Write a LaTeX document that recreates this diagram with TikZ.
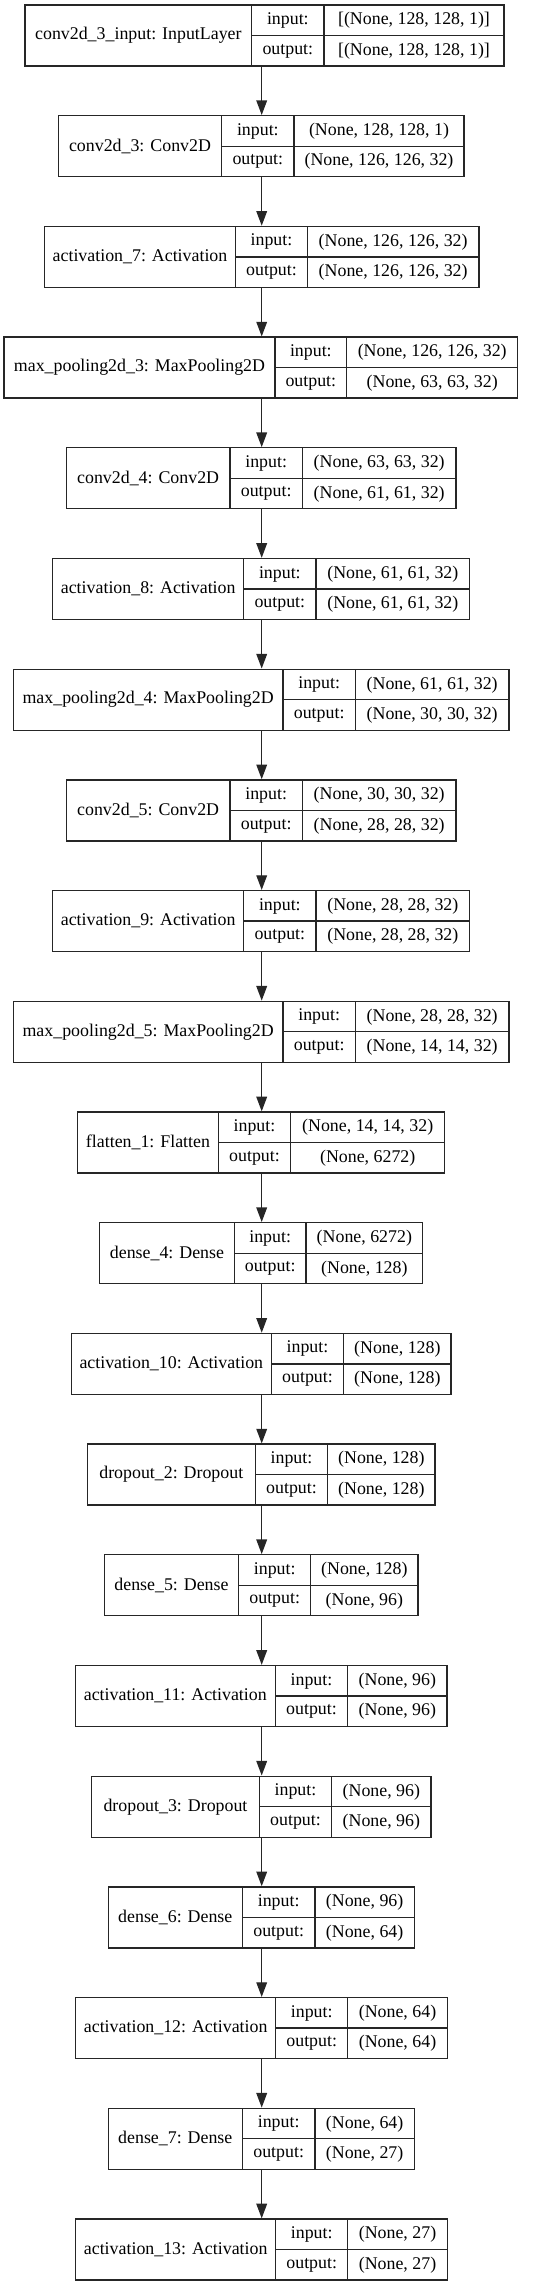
\documentclass[tikz,border=0pt]{standalone}
\usepackage{fontspec}
\setmainfont{Liberation Serif}
\usetikzlibrary{arrows.meta,fit}
\tikzset{
  cellline/.style={draw=black!85,line width=1pt},
  boxnode/.style={cellline,inner sep=0pt,fit=#1},
  celltext/.style={inner sep=0pt,text=black},
  flowarrow/.style={draw=black!85,line width=1pt,-{Triangle[length=11pt,width=8pt]}}
}
\newcommand{\klayer}[9]{%
  \coordinate (#1-nw) at (#2,#6);
  \coordinate (#1-se) at (#5,{#6+61});
  \node[boxnode={(#1-nw)(#1-se)}] (#1) {};
  \draw[cellline] (#3,#6) -- (#3,{#6+61});
  \draw[cellline] (#4,#6) -- (#4,{#6+61});
  \draw[cellline] (#3,{#6+30.5}) -- (#5,{#6+30.5});
  \node[celltext] (#1-name) at ({(#2+#3)/2},{#6+30.5}) {#7};
  \node[celltext] (#1-inl) at ({(#3+#4)/2},{#6+15.5}) {input:};
  \node[celltext] (#1-outl) at ({(#3+#4)/2},{#6+46}) {output:};
  \node[celltext] (#1-inv) at ({(#4+#5)/2},{#6+15.5}) {#8};
  \node[celltext] (#1-outv) at ({(#4+#5)/2},{#6+46}) {#9};
}
\begin{document}
\begin{tikzpicture}[x=0.75pt,y=-0.75pt,font=\fontsize{13.4}{16}\selectfont]
\useasboundingbox (0,0) rectangle (540,2287);
\coordinate (ax) at (261.7,0);
\klayer{L0}{25}{251.7}{324}{504}{5}{conv2d\_3\_input: InputLayer}{[(None, 128, 128, 1)]}{[(None, 128, 128, 1)]}
\klayer{L1}{58.3}{221.7}{294}{464}{115.7}{conv2d\_3: Conv2D}{(None, 128, 128, 1)}{(None, 126, 126, 32)}
\klayer{L2}{44.3}{235.7}{307.3}{479}{226.4}{activation\_7: Activation}{(None, 126, 126, 32)}{(None, 126, 126, 32)}
\klayer{L3}{4}{275}{346.7}{517.7}{337.1}{max\_pooling2d\_3: MaxPooling2D}{(None, 126, 126, 32)}{(None, 63, 63, 32)}
\klayer{L4}{66.3}{230}{302.3}{456}{447.8}{conv2d\_4: Conv2D}{(None, 63, 63, 32)}{(None, 61, 61, 32)}
\klayer{L5}{52.7}{243.7}{316}{469.7}{558.5}{activation\_8: Activation}{(None, 61, 61, 32)}{(None, 61, 61, 32)}
\klayer{L6}{13.3}{283}{355.3}{509}{669.2}{max\_pooling2d\_4: MaxPooling2D}{(None, 61, 61, 32)}{(None, 30, 30, 32)}
\klayer{L7}{66.3}{230}{302.3}{456}{779.9}{conv2d\_5: Conv2D}{(None, 30, 30, 32)}{(None, 28, 28, 32)}
\klayer{L8}{52.7}{243.7}{316}{469.7}{890.6}{activation\_9: Activation}{(None, 28, 28, 32)}{(None, 28, 28, 32)}
\klayer{L9}{13.3}{283}{355.3}{509}{1001.3}{max\_pooling2d\_5: MaxPooling2D}{(None, 28, 28, 32)}{(None, 14, 14, 32)}
\klayer{L10}{77.7}{218.3}{290.7}{444.7}{1112}{flatten\_1: Flatten}{(None, 14, 14, 32)}{(None, 6272)}
\klayer{L11}{99.7}{234.3}{306}{422.7}{1222.7}{dense\_4: Dense}{(None, 6272)}{(None, 128)}
\klayer{L12}{71.3}{271.3}{343.7}{451}{1333.4}{activation\_10: Activation}{(None, 128)}{(None, 128)}
\klayer{L13}{87.3}{255.3}{327.7}{435}{1444.1}{dropout\_2: Dropout}{(None, 128)}{(None, 128)}
\klayer{L14}{104.3}{238.7}{310.7}{418}{1554.8}{dense\_5: Dense}{(None, 128)}{(None, 96)}
\klayer{L15}{75.3}{275.3}{347.7}{447}{1665.5}{activation\_11: Activation}{(None, 96)}{(None, 96)}
\klayer{L16}{91.7}{259.3}{331.7}{431}{1776.2}{dropout\_3: Dropout}{(None, 96)}{(None, 96)}
\klayer{L17}{108.3}{242.3}{315}{414.3}{1886.9}{dense\_6: Dense}{(None, 96)}{(None, 64)}
\klayer{L18}{75.7}{275.7}{347.7}{447.3}{1997.6}{activation\_12: Activation}{(None, 64)}{(None, 64)}
\klayer{L19}{108.3}{242.3}{315}{414.3}{2108.3}{dense\_7: Dense}{(None, 64)}{(None, 27)}
\klayer{L20}{75.7}{275.7}{347.7}{447.3}{2219}{activation\_13: Activation}{(None, 27)}{(None, 27)}
\foreach \a/\b in {L0/L1,L1/L2,L2/L3,L3/L4,L4/L5,L5/L6,L6/L7,L7/L8,L8/L9,L9/L10,L10/L11,L11/L12,L12/L13,L13/L14,L14/L15,L15/L16,L16/L17,L17/L18,L18/L19,L19/L20}
  \draw[flowarrow] (\a.south -| ax) -- (\b.north -| ax);
\end{tikzpicture}
\end{document}
